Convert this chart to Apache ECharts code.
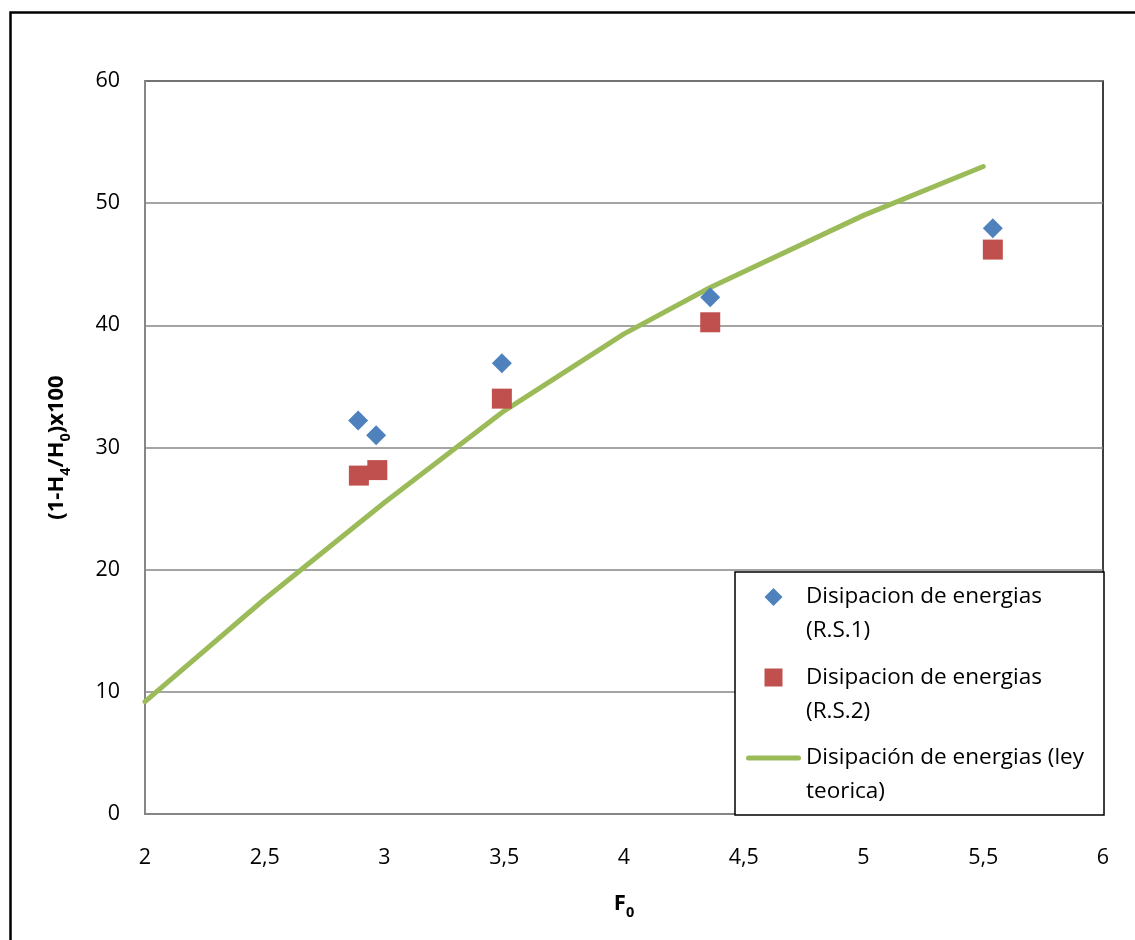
<!DOCTYPE html>
<html>
<head>
<meta charset="utf-8">
<script src="https://cdn.jsdelivr.net/npm/echarts@6/dist/echarts.min.js"></script>
<style>
html,body{margin:0;padding:0;background:#fff;}
#chart{width:1135px;height:940px;}
</style>
</head>
<body>
<div id="chart"></div>
<script>
// Data
const rs1X = [2.89, 2.965, 3.49, 4.36, 5.54];
const rs1Y = [32.2, 31.0, 36.9, 42.3, 47.95];
const rs2X = [2.893, 2.97, 3.49, 4.36, 5.54];
const rs2Y = [27.7, 28.15, 34.0, 40.25, 46.2];
const teoX = [2, 2.5, 3, 3.5, 4, 4.36, 5, 5.5];
const teoY = [9.2, 17.6, 25.5, 33.0, 39.3, 43.1, 49.0, 53.0];
const seriesNames = [
  'Disipacion de energias\n(R.S.1)',
  'Disipacion de energias\n(R.S.2)',
  'Disipación de energias (ley\nteorica)'
];
const xAxisTitle = '{b|F}{sub|0}';
const yAxisTitle = '{b|(1-H}{sub|4}{b|/H}{sub|0}{b|)x100}';

const zip = (xs, ys) => xs.map((x, i) => [x, ys[i]]);

// legend icons: shape in top part, invisible points stretch the box
const diamondIcon = 'path://M9,0 L9,0.01 M9,8 L18,17 L9,26 L0,17 Z M9,68 L9,67.99';
const squareIcon = 'path://M9,0 L9,0.01 M0,8 L18,8 L18,26 L0,26 Z M9,68 L9,67.99';
const lineIcon = 'path://M27,0 L27,0.01 M2.5,14.5 L52.5,14.5 A2.5,2.5 0 0 1 52.5,19.5 L2.5,19.5 A2.5,2.5 0 0 1 2.5,14.5 Z M27,68 L27,67.99 M0,17 L0,17.01 M55,17 L55,17.01';

const FONT = 'Open Sans';
const titleRich = {
  b: {fontFamily: FONT, fontSize: 22, fontWeight: 'bold', color: '#000', lineHeight: 27, verticalAlign: 'top'},
  sub: {fontFamily: FONT, fontSize: 14.5, fontWeight: 'bold', color: '#000', lineHeight: 15, verticalAlign: 'bottom'}
};
const chart = echarts.init(document.getElementById('chart'), null, {renderer: 'canvas'});
chart.setOption({
  backgroundColor: '#ffffff',
  animation: false,
  textStyle: {fontFamily: FONT},
  graphic: [{
    type: 'rect', left: 8, top: 10, silent: true, z: -10,
    shape: {width: 1200, height: 1000},
    style: {fill: 'none', stroke: '#000', lineWidth: 2.5}
  }],
  grid: {
    left: 145, right: 32, top: 81, bottom: 126,
    show: true, borderColor: '#000', borderWidth: 1.5, backgroundColor: 'transparent'
  },
  legend: {
    orient: 'vertical',
    left: 735, top: 572,
    padding: [8, 20, 6, 11],
    itemGap: 12.5,
    itemWidth: 55, itemHeight: 68,
    backgroundColor: '#fff',
    borderColor: '#000', borderWidth: 1.5,
    symbolKeepAspect: true,
    itemStyle: {borderWidth: 0},
    textStyle: {fontFamily: FONT, fontSize: 22.5, lineHeight: 34, color: '#000'},
    data: [
      {name: seriesNames[0], icon: diamondIcon, itemStyle: {color: '#4F81BD', borderWidth: 0}},
      {name: seriesNames[1], icon: squareIcon, itemStyle: {color: '#C0504D', borderWidth: 0}},
      {name: seriesNames[2], icon: lineIcon, itemStyle: {color: '#9BBB59', borderWidth: 0}}
    ]
  },
  xAxis: {
    type: 'value', min: 2, max: 6, interval: 0.5,
    name: xAxisTitle, nameLocation: 'middle', nameGap: 79,
    nameTextStyle: {fontFamily: FONT, fontSize: 22, fontWeight: 'bold', color: '#000', rich: titleRich},
    axisLine: {show: true, onZero: false, lineStyle: {color: '#868686', width: 2}},
    axisTick: {show: false},
    axisLabel: {
      fontFamily: FONT, fontSize: 21.5, color: '#000', margin: 33,
      formatter: v => String(v).replace('.', ',')
    },
    splitLine: {show: false}
  },
  yAxis: {
    type: 'value', min: 0, max: 60, interval: 10,
    name: yAxisTitle, nameLocation: 'middle', nameGap: 72, nameRotate: 90,
    nameTextStyle: {fontFamily: FONT, fontSize: 22, fontWeight: 'bold', color: '#000', rich: titleRich},
    axisLine: {show: true, onZero: false, lineStyle: {color: '#868686', width: 2}},
    axisTick: {show: false},
    axisLabel: {fontFamily: FONT, fontSize: 21.5, color: '#000', margin: 25},
    splitLine: {show: true, lineStyle: {color: '#868686', width: 1.5}}
  },
  series: [
    {
      name: seriesNames[2], type: 'line', data: zip(teoX, teoY),
      showSymbol: false, symbol: 'none', color: '#9BBB59',
      lineStyle: {color: '#9BBB59', width: 5, cap: 'round', join: 'round'},
      z: 2
    },
    {
      name: seriesNames[0], type: 'scatter', data: zip(rs1X, rs1Y),
      symbol: 'diamond', symbolSize: 20, color: '#4F81BD',
      itemStyle: {color: '#4F81BD', opacity: 1}, z: 3
    },
    {
      name: seriesNames[1], type: 'scatter', data: zip(rs2X, rs2Y),
      symbol: 'rect', symbolSize: 20, color: '#C0504D',
      itemStyle: {color: '#C0504D', opacity: 1}, z: 3
    }
  ]
});
</script>
</body>
</html>
